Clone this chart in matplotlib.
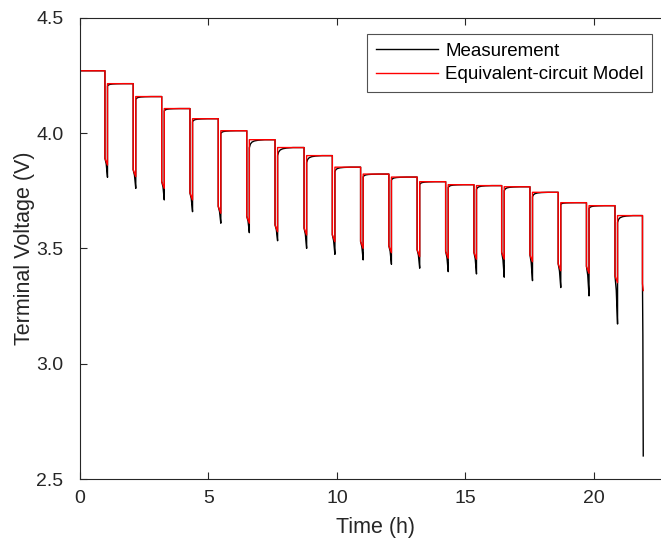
import matplotlib
matplotlib.use('Agg')
import matplotlib.pyplot as plt
import numpy as np

plt.rcParams['font.family'] = ['Liberation Sans', 'DejaVu Sans']

# pulse start times (h)
pulse_start = [0.97, 2.07, 3.18, 4.28, 5.38, 6.49, 7.59, 8.72, 9.82, 10.92,
               12.02, 13.12, 14.23, 15.33, 16.41, 17.51, 18.61, 19.71, 20.82, 21.89]
# rest voltage reached before each pulse (V)
rest_level = [4.270, 4.214, 4.158, 4.106, 4.062, 4.010, 3.971, 3.937, 3.902, 3.852,
              3.822, 3.809, 3.789, 3.776, 3.772, 3.767, 3.743, 3.698, 3.685, 3.642]
# lowest voltage at the end of each pulse
meas_min = [3.808, 3.760, 3.710, 3.659, 3.609, 3.568, 3.533, 3.500, 3.474, 3.450,
            3.431, 3.414, 3.399, 3.389, 3.375, 3.360, 3.330, 3.294, 3.172, 2.600]
model_min = [3.861, 3.811, 3.760, 3.710, 3.652, 3.609, 3.572, 3.558, 3.529, 3.500,
             3.481, 3.464, 3.457, 3.453, 3.453, 3.442, 3.403, 3.392, 3.351, 3.317]
# measured voltage right after the current is switched off
meas_recover = [4.204, 4.146, 4.096, 4.049, 3.998, 3.936, 3.902, 3.872, 3.833, 3.810,
                3.796, 3.777, 3.764, 3.756, 3.750, 3.724, 3.691, 3.673, 3.612]

pulse_len = 0.1
last_pulse_len = 0.03   # cut-off voltage hit almost at once
ohmic_gap = 0.03
relax_dt = [0.04, 0.10, 0.20, 0.35, 0.60]
relax_frac = [0.45, 0.70, 0.85, 0.94, 1.00]

t_meas, v_meas = [0.0], [rest_level[0]]
t_mod, v_mod = [0.0], [rest_level[0]]
n = len(pulse_start)
for k in range(n):
    ts = pulse_start[k]
    dur = pulse_len if k < n - 1 else last_pulse_len
    te = ts + dur
    v0 = model_min[k] + ohmic_gap
    # model
    t_mod += [ts, ts, te]
    v_mod += [rest_level[k], v0, model_min[k]]
    # measurement
    t_meas += [ts, ts, ts + 0.5 * dur, te]
    v_meas += [rest_level[k], v0, v0 - 0.3 * (v0 - meas_min[k]), meas_min[k]]
    if k < n - 1:
        nxt = rest_level[k + 1]
        t_mod += [te]
        v_mod += [nxt]
        t_meas += [te]
        v_meas += [meas_recover[k]]
        gap = nxt - meas_recover[k]
        for dt, fr in zip(relax_dt, relax_frac):
            t_meas.append(te + dt)
            v_meas.append(meas_recover[k] + fr * gap)

fig = plt.figure(figsize=(6.61, 5.47), dpi=100)
ax = fig.add_axes([80 / 661, 68 / 547, 591 / 661, 461.3 / 547])

ax.plot(t_meas, v_meas, color='black', lw=1.0, label='Measurement')
ax.plot(t_mod, v_mod, color='red', lw=1.0, label='Equivalent-circuit Model')

ax.set_xlim(0, 23)
ax.set_ylim(2.5, 4.5)
ax.set_xticks([0, 5, 10, 15, 20])
ax.set_yticks([2.5, 3.0, 3.5, 4.0, 4.5])
ax.set_yticklabels(['2.5', '3.0', '3.5', '4.0', '4.5'])

axis_col = '#262626'
for s in ax.spines.values():
    s.set_color(axis_col)
    s.set_linewidth(0.8)
ax.tick_params(direction='in', length=5, width=0.8, top=True, right=True,
               colors=axis_col, labelsize=14)
ax.tick_params(axis='y', pad=12)
ax.tick_params(axis='x', pad=8)

ax.set_xlabel('Time (h)', fontsize=15.5, color=axis_col, labelpad=7)
ax.set_ylabel('Terminal Voltage (V)', fontsize=15.5, color=axis_col, labelpad=1)

leg = ax.legend(loc='upper right', bbox_to_anchor=(652 / 661, (547 - 34) / 547),
                bbox_transform=fig.transFigure, borderaxespad=0, fontsize=13.5,
                frameon=True, fancybox=False, handlelength=3.3, handletextpad=0.4,
                borderpad=0.45, labelspacing=0.35)
leg.get_frame().set_edgecolor(axis_col)
leg.get_frame().set_linewidth(0.8)

fig.savefig('out.png', dpi=100)
